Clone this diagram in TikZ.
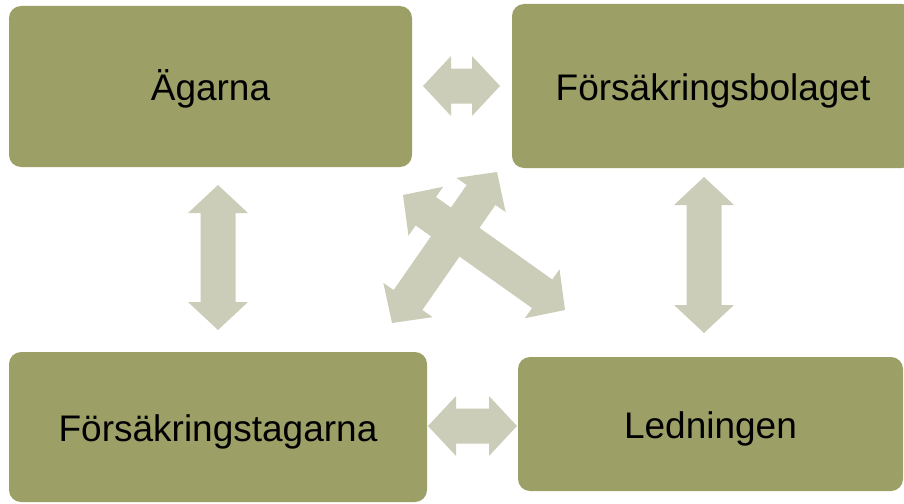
\documentclass[tikz,border=0pt]{standalone}
\usepackage{fontspec}
\setmainfont{Liberation Sans}
\usetikzlibrary{calc}
\definecolor{boxolive}{RGB}{156,160,103}
\definecolor{arrowgrey}{RGB}{203,205,185}
\tikzset{
  boxnode/.style={fill=boxolive, rounded corners=12pt, inner sep=0pt,
    text height=30pt, text depth=2pt,
    font=\fontsize{37}{44}\selectfont, text=black},
  arrfill/.style={fill=arrowgrey}
}
\newcommand\blockarr[2]{%
\fill[arrfill] (#1)
 -- ($(#1)!28pt!(#2)!30pt!90:(#2)$)
 -- ($(#1)!28pt!(#2)!17.5pt!90:(#2)$)
 -- ($(#2)!28pt!(#1)!17.5pt!-90:(#1)$)
 -- ($(#2)!28pt!(#1)!30pt!-90:(#1)$)
 -- (#2)
 -- ($(#2)!28pt!(#1)!30pt!90:(#1)$)
 -- ($(#2)!28pt!(#1)!17.5pt!90:(#1)$)
 -- ($(#1)!28pt!(#2)!17.5pt!-90:(#2)$)
 -- ($(#1)!28pt!(#2)!30pt!-90:(#2)$)
 -- cycle;}
\begin{document}
\begin{tikzpicture}[x=1pt,y=-1pt]
\useasboundingbox (0,0) rectangle (904,503);
\clip (0,0) rectangle (904,503);
% boxes
\node[boxnode, minimum width=403pt, minimum height=161pt] (ag) at (210.5,86.5) {Ägarna};
\node[boxnode, minimum width=402pt, minimum height=164pt] (fb) at (713,86) {Försäkringsbolaget};
\node[boxnode, minimum width=418pt, minimum height=150pt] (ft) at (218,427) {Försäkringstagarna};
\node[boxnode, minimum width=385pt, minimum height=134pt] (le) at (710.5,424) {Ledningen};
% arrow end points
\coordinate (t1) at (423,86);  \coordinate (t2) at (500,86);
\coordinate (b1) at (428,426); \coordinate (b2) at (517,426);
\coordinate (l1) at (218,185); \coordinate (l2) at (218,330);
\coordinate (r1) at (704,177); \coordinate (r2) at (704,333);
\coordinate (da1) at (392,323); \coordinate (da2) at (497,172);
\coordinate (db1) at (403,195); \coordinate (db2) at (565,310);
% arrows
\blockarr{t1}{t2}
\blockarr{b1}{b2}
\blockarr{l1}{l2}
\blockarr{r1}{r2}
\blockarr{db1}{db2}
\blockarr{da1}{da2}
\end{tikzpicture}
\end{document}
